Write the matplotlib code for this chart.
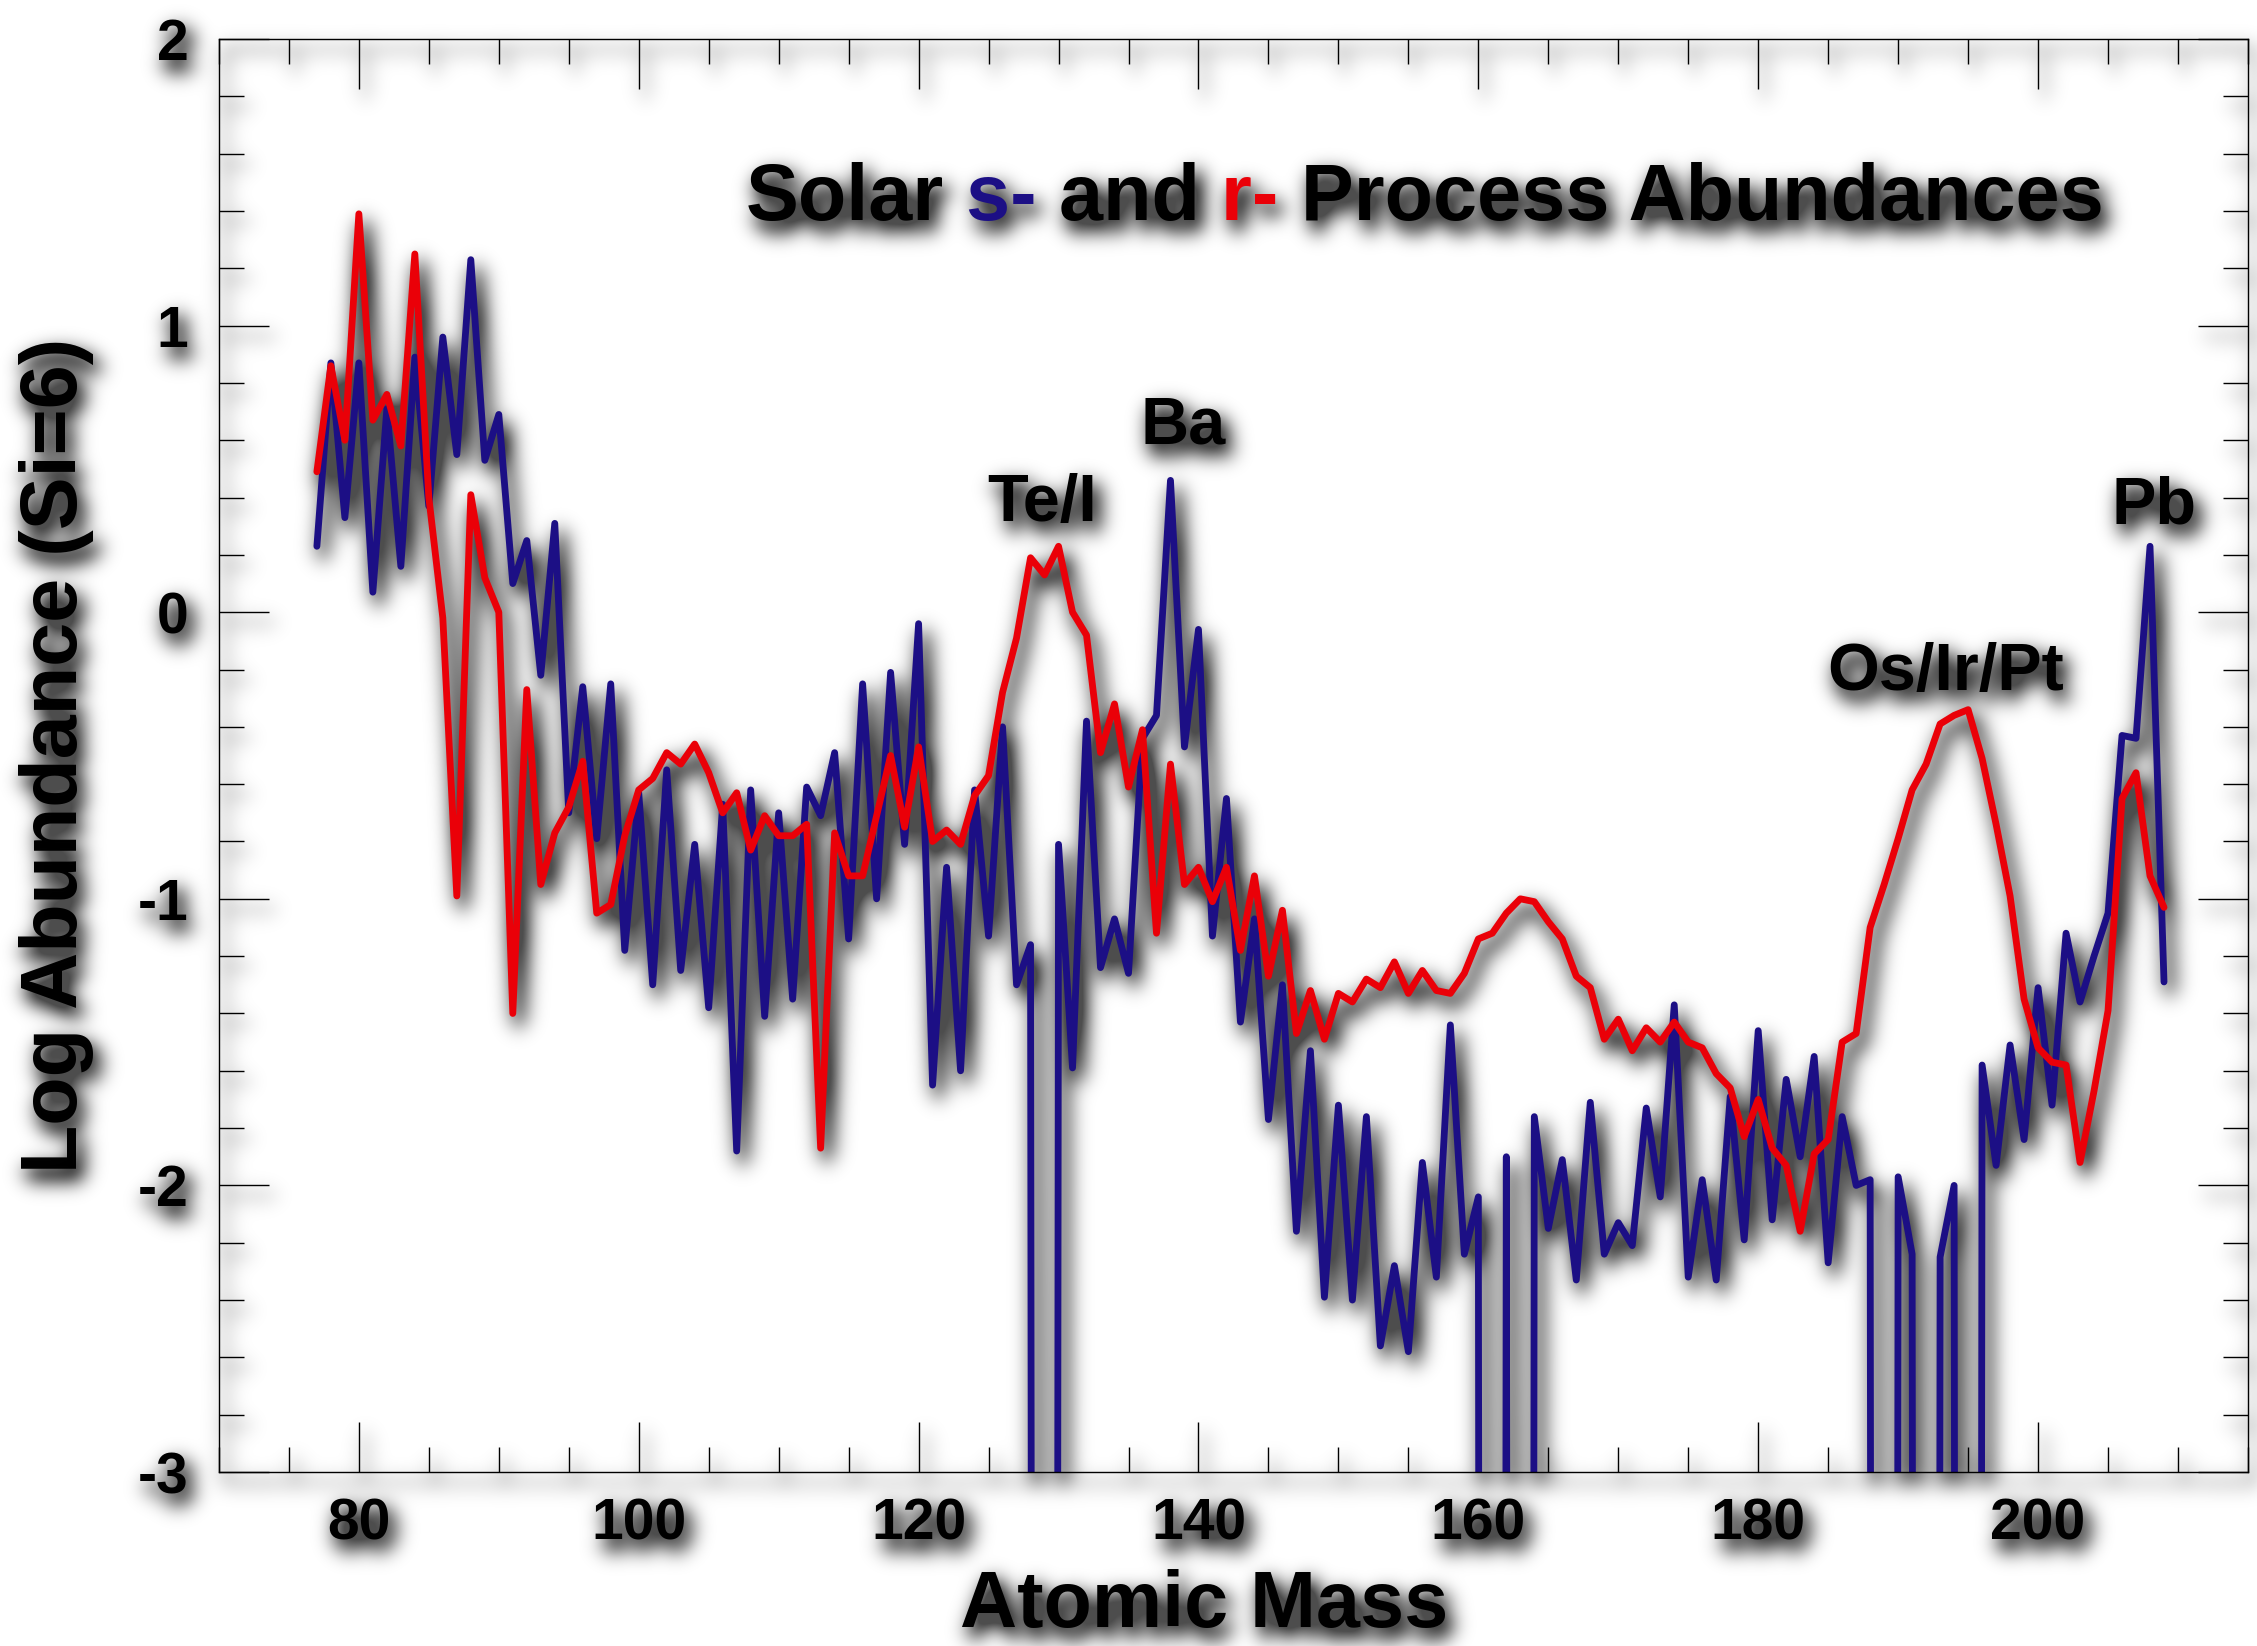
import numpy as np
import matplotlib
matplotlib.use("Agg")
import matplotlib.pyplot as plt
from matplotlib.ticker import MultipleLocator

# =========================
# DATA
# =========================

NEG = -40.0  # zero abundance, runs off the bottom of the plot

mass = list(range(77, 210))

s_process = [
    0.23, 0.87, 0.33, 0.87, 0.07, 0.71, 0.16, 0.89, 0.37, 0.96,      # 77-86
    0.55, 1.23, 0.53, 0.69, 0.10, 0.25, -0.22, 0.31, -0.70, -0.26,   # 87-96
    -0.79, -0.25, -1.18, -0.63, -1.30, -0.55, -1.25, -0.81, -1.38, -0.67,  # 97-106
    -1.88, -0.62, -1.41, -0.70, -1.35, -0.61, -0.71, -0.49, -1.14, -0.25,  # 107-116
    -1.00, -0.21, -0.81, -0.04, -1.65, -0.89, -1.60, -0.62, -1.13, -0.40,  # 117-126
    -1.30, -1.16, NEG, -0.81, -1.59, -0.38, -1.24, -1.07, -1.26, -0.44,    # 127-136
    -0.36, 0.46, -0.47, -0.06, -1.13, -0.65, -1.43, -1.07, -1.77, -1.30,   # 137-146
    -2.16, -1.53, -2.39, -1.72, -2.40, -1.76, -2.56, -2.28, -2.58, -1.92,  # 147-156
    -2.32, -1.44, -2.24, -2.04, NEG, -1.90, NEG, -1.76, -2.15, -1.91,      # 157-166
    -2.33, -1.71, -2.24, -2.13, -2.21, -1.73, -2.04, -1.37, -2.32, -1.98,  # 167-176
    -2.33, -1.69, -2.19, -1.46, -2.12, -1.63, -1.90, -1.55, -2.27, -1.76,  # 177-186
    -2.00, -1.98, NEG, -1.97, -2.24, NEG, -2.25, -2.00, NEG, -1.58,        # 187-196
    -1.93, -1.51, -1.84, -1.31, -1.72, -1.12, -1.36, -1.20, -1.05, -0.43,  # 197-206
    -0.44, 0.23, -1.29,                                                    # 207-209
]

r_process = [
    0.49, 0.86, 0.60, 1.39, 0.67, 0.76, 0.58, 1.25, 0.40, -0.02,     # 77-86
    -0.99, 0.41, 0.12, 0.00, -1.40, -0.27, -0.95, -0.77, -0.68, -0.52,     # 87-96
    -1.05, -1.02, -0.78, -0.62, -0.58, -0.49, -0.53, -0.46, -0.56, -0.70,  # 97-106
    -0.63, -0.83, -0.71, -0.78, -0.78, -0.74, -1.87, -0.77, -0.92, -0.92,  # 107-116
    -0.71, -0.50, -0.75, -0.47, -0.80, -0.76, -0.81, -0.64, -0.57, -0.28,  # 117-126
    -0.09, 0.19, 0.13, 0.23, 0.00, -0.08, -0.49, -0.32, -0.61, -0.41,      # 127-136
    -1.12, -0.53, -0.95, -0.89, -1.01, -0.89, -1.18, -0.92, -1.27, -1.04,  # 137-146
    -1.47, -1.32, -1.49, -1.33, -1.36, -1.28, -1.31, -1.22, -1.33, -1.25,  # 147-156
    -1.32, -1.33, -1.26, -1.14, -1.12, -1.05, -1.00, -1.01, -1.08, -1.14,  # 157-166
    -1.27, -1.31, -1.49, -1.42, -1.53, -1.45, -1.50, -1.43, -1.50, -1.52,  # 167-176
    -1.61, -1.66, -1.83, -1.70, -1.87, -1.93, -2.16, -1.89, -1.84, -1.50,  # 177-186
    -1.47, -1.10, -0.95, -0.79, -0.62, -0.53, -0.39, -0.36, -0.34, -0.51,  # 187-196
    -0.74, -0.99, -1.35, -1.52, -1.57, -1.58, -1.92, -1.67, -1.39, -0.65,  # 197-206
    -0.56, -0.92, -1.03,                                                   # 207-209
]

peak_labels = ["Te/I", "Ba", "Os/Ir/Pt", "Pb"]
peak_x = [128.8, 138.9, 193.4, 208.3]
peak_y = [0.32, 0.59, -0.27, 0.31]

# =========================
# STYLE
# =========================

BLUE = "#1c0f85"
RED = "#ea0008"
FONT = "Liberation Sans"

plt.rcParams["font.family"] = [FONT, "DejaVu Sans"]
plt.rcParams["font.weight"] = "bold"
plt.rcParams["axes.unicode_minus"] = False


def add_soft_shadow(fig, dx=6, dy=10, sigma=10.0, strength=1.5):
    # render once, blur an offset copy of the ink, put it behind everything
    fig.canvas.draw()
    rgb = np.asarray(fig.canvas.buffer_rgba())[..., :3].astype(float) / 255.0
    cover = 1.0 - rgb.min(axis=2)
    h, w = cover.shape
    pad = int(4 * sigma) + max(dx, dy)
    big = np.zeros((h + 2 * pad, w + 2 * pad))
    big[pad + dy:pad + dy + h, pad + dx:pad + dx + w] = cover
    fy = np.fft.fftfreq(big.shape[0])[:, None]
    fx = np.fft.rfftfreq(big.shape[1])[None, :]
    kern = np.exp(-2 * (np.pi * sigma) ** 2 * (fx ** 2 + fy ** 2))
    blur = np.fft.irfft2(np.fft.rfft2(big) * kern, s=big.shape)
    blur = blur[pad:pad + h, pad:pad + w]
    shadow = np.zeros((h, w, 4))
    shadow[..., 3] = np.clip(blur * strength, 0, 0.7)
    fig.figimage(shadow, xo=0, yo=0, origin="upper", zorder=-5)


# =========================
# MAIN
# =========================

fig = plt.figure(figsize=(22.57, 16.46), dpi=100, facecolor="white")
ax = fig.add_axes([0.0970, 0.1057, 0.8990, 0.8706])
ax.set_facecolor("none")

line_kw = dict(linewidth=4.9, solid_joinstyle="round", solid_capstyle="round")
ax.plot(mass, s_process, color=BLUE, **line_kw)
ax.plot(mass, r_process, color=RED, **line_kw)

ax.set_xlim(70, 215)
ax.set_ylim(-3, 2)

ax.xaxis.set_major_locator(MultipleLocator(20))
ax.xaxis.set_minor_locator(MultipleLocator(5))
ax.yaxis.set_major_locator(MultipleLocator(1))
ax.yaxis.set_minor_locator(MultipleLocator(0.2))

ax.tick_params(which="both", direction="in", top=True, right=True, width=1.0, color="black")
ax.tick_params(which="major", length=36)
ax.tick_params(which="minor", length=18)
ax.tick_params(axis="x", which="major", labelsize=41, pad=18)
ax.tick_params(axis="y", which="major", labelsize=41, pad=22)
for lab in ax.get_xticklabels() + ax.get_yticklabels():
    lab.set_fontweight("bold")

for spine in ax.spines.values():
    spine.set_linewidth(1.0)
    spine.set_color("black")

ax.set_xlabel("Atomic Mass", fontsize=57, fontweight="bold")
ax.xaxis.set_label_coords(0.4855, -0.068)
ax.set_ylabel("Log Abundance (Si=6)", fontsize=57, fontweight="bold")
ax.yaxis.set_label_coords(-0.0616, 0.5)

# title with coloured s- and r-
parts = [("Solar", "black"), (" s-", BLUE), (" and", "black"), (" r-", RED),
         (" Process Abundances", "black")]
t = ax.text(0.2597, 0.8737, parts[0][0], transform=ax.transAxes, color=parts[0][1],
            fontsize=57, fontweight="bold", ha="left", va="baseline")
for s, c in parts[1:]:
    t = ax.annotate(s, xy=(1, 0), xycoords=t, color=c, fontsize=57,
                    fontweight="bold", ha="left", va="bottom")

for lab, x, y in zip(peak_labels, peak_x, peak_y):
    ax.text(x, y, lab, fontsize=48, fontweight="bold", ha="center", va="baseline")

add_soft_shadow(fig)

fig.savefig("out.png", dpi=100, facecolor="white")
plt.close(fig)
